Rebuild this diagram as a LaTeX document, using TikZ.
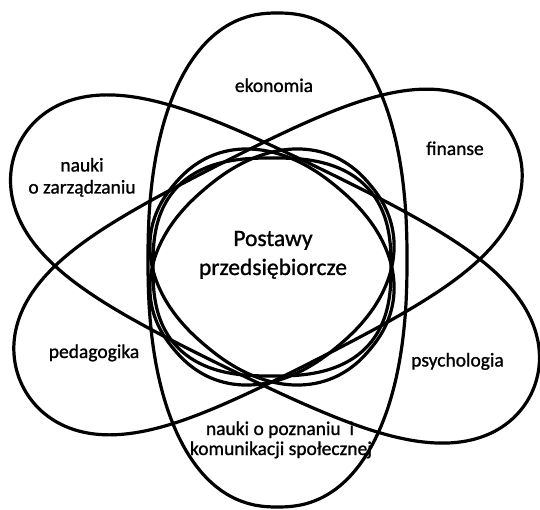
\documentclass[tikz,border=0pt]{standalone}
\usepackage{fontspec}
\setmainfont{Carlito}
\newfontfamily\lblfont{Carlito}[FakeBold=1.1]
% superellipse: [opts]{cx}{cy}{a}{b}{rotation}{2/n}
\newcommand\blob[7][]{%
 \draw[#1] plot[domain=0:360,samples=240,variable=\t]
 ({#2+(#4)*sign(cos(\t))*pow(abs(cos(\t))+0.00001,#7)*cos(#6)-(#5)*sign(sin(\t))*pow(abs(sin(\t))+0.00001,#7)*sin(#6)},
  {#3+(#4)*sign(cos(\t))*pow(abs(cos(\t))+0.00001,#7)*sin(#6)+(#5)*sign(sin(\t))*pow(abs(sin(\t))+0.00001,#7)*cos(#6)}) -- cycle;}
% lobed oval (wider at both ends): [opts]{cx}{cy}{a}{b0}{k}{rotation}
\newcommand\lobe[7][]{%
 \draw[#1] plot[domain=0:360,samples=240,variable=\t]
 ({#2+(#4)*cos(\t)*cos(#7)-sin(\t)*((#5)+(#6)*cos(\t)*cos(\t))*sin(#7)},
  {#3+(#4)*cos(\t)*sin(#7)+sin(\t)*((#5)+(#6)*cos(\t)*cos(\t))*cos(#7)}) -- cycle;}
\tikzset{
  lbl/.style={anchor=base, align=center, font=\lblfont\fontsize{19.5}{20}\selectfont, inner sep=0pt},
  ctr/.style={anchor=base, align=center, font=\lblfont\fontsize{23.5}{28}\selectfont, inner sep=0pt}
}
\begin{document}
\begin{tikzpicture}[x=1pt,y=-1pt,line width=3.2pt,line join=round]
\useasboundingbox (0,0) rectangle (540,510);
\fill[white] (0,0) rectangle (540,510);
% outer shapes
\blob{277.5}{260}{129.5}{247}{0}{0.87}
\lobe{275}{269}{285}{110}{43}{26}
\lobe{268}{262}{275}{109}{43}{-27}
% inner shapes
\blob{272}{267}{119}{109}{0}{0.77}
\blob{272}{267}{128}{103}{40}{0.9}
\blob{272}{267}{128}{103}{-40}{0.9}
% labels
\node[lbl] (eko) at (274,92) {ekonomia};
\node[lbl] (fin) at (455,155) {finanse};
\node[lbl] (zarz1) at (82,171.5) {nauki};
\node[lbl] (zarz2) at (82,193.5) {o zarządzaniu};
\node[lbl] (ped) at (94,358) {pedagogika};
\node[lbl] (psy) at (457.5,366.5) {psychologia};
\node[lbl] (pozn1) at (280,435) {nauki o poznaniu\ \ i};
\node[lbl] (pozn2) at (281,455) {komunikacji społecznej};
\node[ctr] (post1) at (273,246) {Postawy};
\node[ctr] (post2) at (273,275) {przedsiębiorcze};
\end{tikzpicture}
\end{document}
